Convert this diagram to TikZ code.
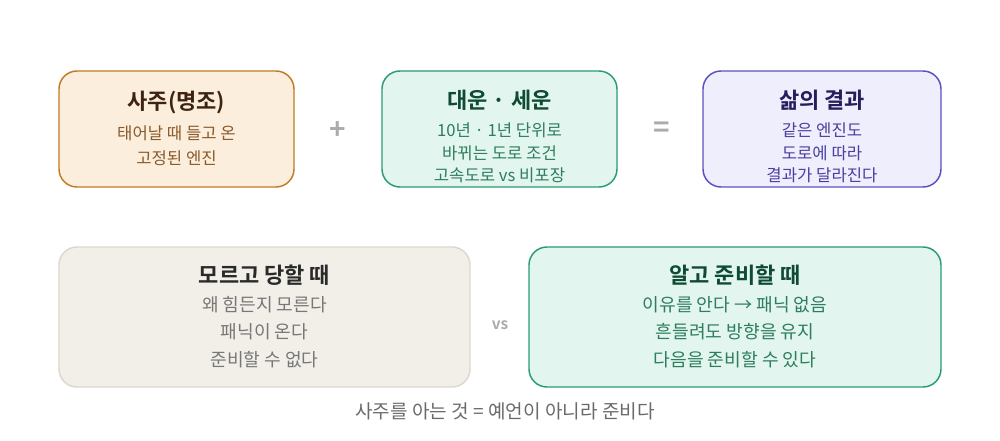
\documentclass[tikz,border=0pt]{standalone}
\usepackage{fontspec}
\setmainfont{Noto Sans CJK KR}
\newfontfamily\krbold{Noto Sans CJK KR Bold}
\definecolor{orBorder}{HTML}{C27B25}
\definecolor{orFill}{HTML}{FBEEDC}
\definecolor{orTitle}{HTML}{3E2410}
\definecolor{orText}{HTML}{8A5A2C}
\definecolor{grBorder}{HTML}{2A9D70}
\definecolor{grFill}{HTML}{E2F5EE}
\definecolor{grTitle}{HTML}{0E4A34}
\definecolor{grText}{HTML}{2E7D5E}
\definecolor{puBorder}{HTML}{5B50C2}
\definecolor{puFill}{HTML}{EFEEFD}
\definecolor{puTitle}{HTML}{241E5C}
\definecolor{puText}{HTML}{4A40A2}
\definecolor{beBorder}{HTML}{DDD8CE}
\definecolor{beFill}{HTML}{F2EFE9}
\definecolor{beTitle}{HTML}{2A2A2A}
\definecolor{beText}{HTML}{777777}
\definecolor{opGray}{HTML}{ABABAB}
\definecolor{footGray}{HTML}{6A6A6A}
\tikzset{
  card/.style={rounded corners=13.5pt, line width=1.1pt},
  ttl/.style={font=\krbold\fontsize{16.5}{19}\selectfont, inner sep=0pt},
  sub/.style={font=\fontsize{12.5}{14}\selectfont, inner sep=0pt},
  subb/.style={font=\fontsize{13.6}{15}\selectfont, inner sep=0pt},
  oper/.style={font=\krbold\fontsize{21}{22}\selectfont, text=opGray, inner sep=0pt},
}
\begin{document}
\begin{tikzpicture}[x=0.75pt,y=-0.75pt]
\useasboundingbox (0,0) rectangle (1000,441);
\fill[white] (0,0) rectangle (1000,441);
% box 1
\draw[card, draw=orBorder, fill=orFill] (59,71) rectangle (294,187);
\node[ttl, text=orTitle] (t1) at (176.5,103) {사주(명조)};
\node[sub, text=orText] (s1a) at (176.5,133) {태어날 때 들고 온};
\node[sub, text=orText] (s1b) at (176.5,158) {고정된 엔진};
% plus
\node[oper] (plus) at (338,131) {+};
% box 2
\draw[card, draw=grBorder, fill=grFill] (382,71) rectangle (617,187);
\node[ttl, text=grTitle] (t2) at (499.5,100) {대운 · 세운};
\node[sub, text=grText] (s2a) at (499.5,130) {10년 · 1년 단위로};
\node[sub, text=grText] (s2b) at (499.5,153) {바뀌는 도로 조건};
\node[sub, text=grText] (s2c) at (499.5,175) {고속도로 vs 비포장};
% equals
\node[oper] (eq) at (662,130) {=};
% box 3
\draw[card, draw=puBorder, fill=puFill] (703,71) rectangle (941,187);
\node[ttl, text=puTitle] (t3) at (822,100) {삶의 결과};
\node[sub, text=puText] (s3a) at (822,130) {같은 엔진도};
\node[sub, text=puText] (s3b) at (822,153) {도로에 따라};
\node[sub, text=puText] (s3c) at (822,175) {결과가 달라진다};
% box 4
\draw[card, draw=beBorder, fill=beFill] (59,247) rectangle (470,387);
\node[ttl, text=beTitle] (t4) at (264.5,275) {모르고 당할 때};
\node[subb, text=beText] (s4a) at (264.5,305) {왜 힘든지 모른다};
\node[subb, text=beText] (s4b) at (264.5,332) {패닉이 온다};
\node[subb, text=beText] (s4c) at (264.5,360) {준비할 수 없다};
% vs
\node[font=\krbold\fontsize{11.5}{13}\selectfont, text=opGray, inner sep=0pt] (vs) at (500,325) {vs};
% box 5
\draw[card, draw=grBorder, fill=grFill] (529,247) rectangle (941,387);
\node[ttl, text=grTitle] (t5) at (735,275) {알고 준비할 때};
\node[subb, text=grText] (s5a) at (735,305) {이유를 안다 → 패닉 없음};
\node[subb, text=grText] (s5b) at (735,332) {흔들려도 방향을 유지};
\node[subb, text=grText] (s5c) at (735,360) {다음을 준비할 수 있다};
% footer
\node[font=\fontsize{14.3}{16}\selectfont, text=footGray, inner sep=0pt] (foot) at (505,411) {사주를 아는 것 = 예언이 아니라 준비다};
\end{tikzpicture}
\end{document}
